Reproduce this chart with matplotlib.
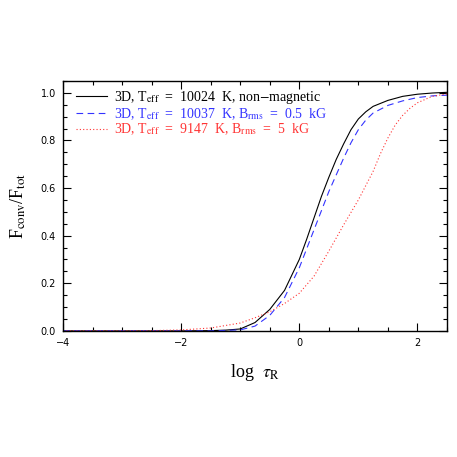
import matplotlib
matplotlib.use("Agg")
import matplotlib.pyplot as plt
from matplotlib.ticker import MultipleLocator, FuncFormatter, FormatStrFormatter

plt.rcParams['mathtext.fontset'] = 'stix'
plt.rcParams['font.family'] = ['Liberation Serif', 'DejaVu Serif']

x_black = [-4, -3, -2, -1.5, -1.25, -1.0, -0.75, -0.5, -0.25, 0, 0.125, 0.25, 0.375, 0.5, 0.625, 0.75, 0.875,
           1.0, 1.125, 1.25, 1.5, 1.75, 2.0, 2.25, 2.5]
y_black = [0, 0, 0, 0.001, 0.003, 0.008, 0.035, 0.09, 0.17, 0.30, 0.385, 0.475, 0.565, 0.645, 0.72, 0.785, 0.845,
           0.89, 0.92, 0.943, 0.968, 0.985, 0.994, 0.999, 1.002]

x_blue = [-4, -3, -2, -1.5, -1.0, -0.75, -0.5, -0.25, 0, 0.125, 0.25, 0.375, 0.5, 0.625, 0.75, 0.875,
          1.0, 1.125, 1.25, 1.5, 1.75, 2.0, 2.25, 2.5]
y_blue = [0, 0, 0, 0.0, 0.004, 0.02, 0.065, 0.14, 0.265, 0.345, 0.425, 0.505, 0.585, 0.655, 0.725, 0.79,
          0.845, 0.885, 0.915, 0.947, 0.966, 0.98, 0.987, 0.99]

x_red = [-4, -3, -2.5, -2, -1.5, -1.0, -0.75, -0.5, -0.25, 0, 0.25, 0.5, 0.75, 1.0, 1.125, 1.25, 1.375,
         1.5, 1.625, 1.75, 1.875, 2.0, 2.25, 2.5]
y_red = [0, 0.0005, 0.001, 0.004, 0.012, 0.033, 0.055, 0.08, 0.115, 0.158, 0.23, 0.335, 0.445, 0.55, 0.61, 0.67, 0.745,
         0.81, 0.865, 0.905, 0.935, 0.958, 0.985, 0.995]

labels = [
    r'3D, T$_{\rm eff}$  =  10024  K, non$-$magnetic',
    r'3D, T$_{\rm eff}$  =  10037  K, B$_{\rm rms}$  =  0.5  kG',
    r'3D, T$_{\rm eff}$  =  9147  K, B$_{\rm rms}$  =  5  kG',
]
colors = ['black', '#3333ff', '#ff3333']

fig = plt.figure(figsize=(4.57, 4.57), dpi=100)
ax = fig.add_axes([0.138, 0.276, 0.840, 0.547])

l1, = ax.plot(x_black, y_black, color=colors[0], lw=0.8, ls='-')
l2, = ax.plot(x_blue, y_blue, color=colors[1], lw=0.8, ls=(0, (6, 4)))
l3, = ax.plot(x_red, y_red, color=colors[2], lw=0.8, ls=(0, (1, 2)))

ax.set_xlim(-4, 2.5)
ax.set_ylim(0, 1.05)
ax.xaxis.set_major_locator(MultipleLocator(2))
ax.xaxis.set_minor_locator(MultipleLocator(0.5))
ax.yaxis.set_major_locator(MultipleLocator(0.2))
ax.yaxis.set_minor_locator(MultipleLocator(0.05))
ax.tick_params(which='both', direction='in', top=True, right=True, labelsize=7, pad=5)
ax.tick_params(which='major', length=6, width=0.8)
ax.tick_params(which='minor', length=3, width=0.8)
ax.xaxis.set_major_formatter(FuncFormatter(lambda v, p: ('%d' % round(v)).replace('-', '\u2212')))
ax.yaxis.set_major_formatter(FormatStrFormatter('%.1f'))
for lab in ax.get_xticklabels() + ax.get_yticklabels():
    lab.set_family('DejaVu Sans')
for s in ax.spines.values():
    s.set_linewidth(1.0)

ax.set_xlabel(r'log  $\tau_{\rm R}$', fontsize=13, labelpad=10)
ax.set_ylabel(r'F$_{\rm conv}$/F$_{\rm tot}$', fontsize=13, labelpad=9)

leg = ax.legend([l1, l2, l3], labels, loc='upper left', frameon=False, fontsize=10,
                handlelength=2.2, handletextpad=0.5, labelspacing=0.0,
                borderaxespad=0.0, bbox_to_anchor=(0.02, 0.99))
for t, c in zip(leg.get_texts(), colors):
    t.set_color(c)

fig.savefig('out.png', dpi=100)
